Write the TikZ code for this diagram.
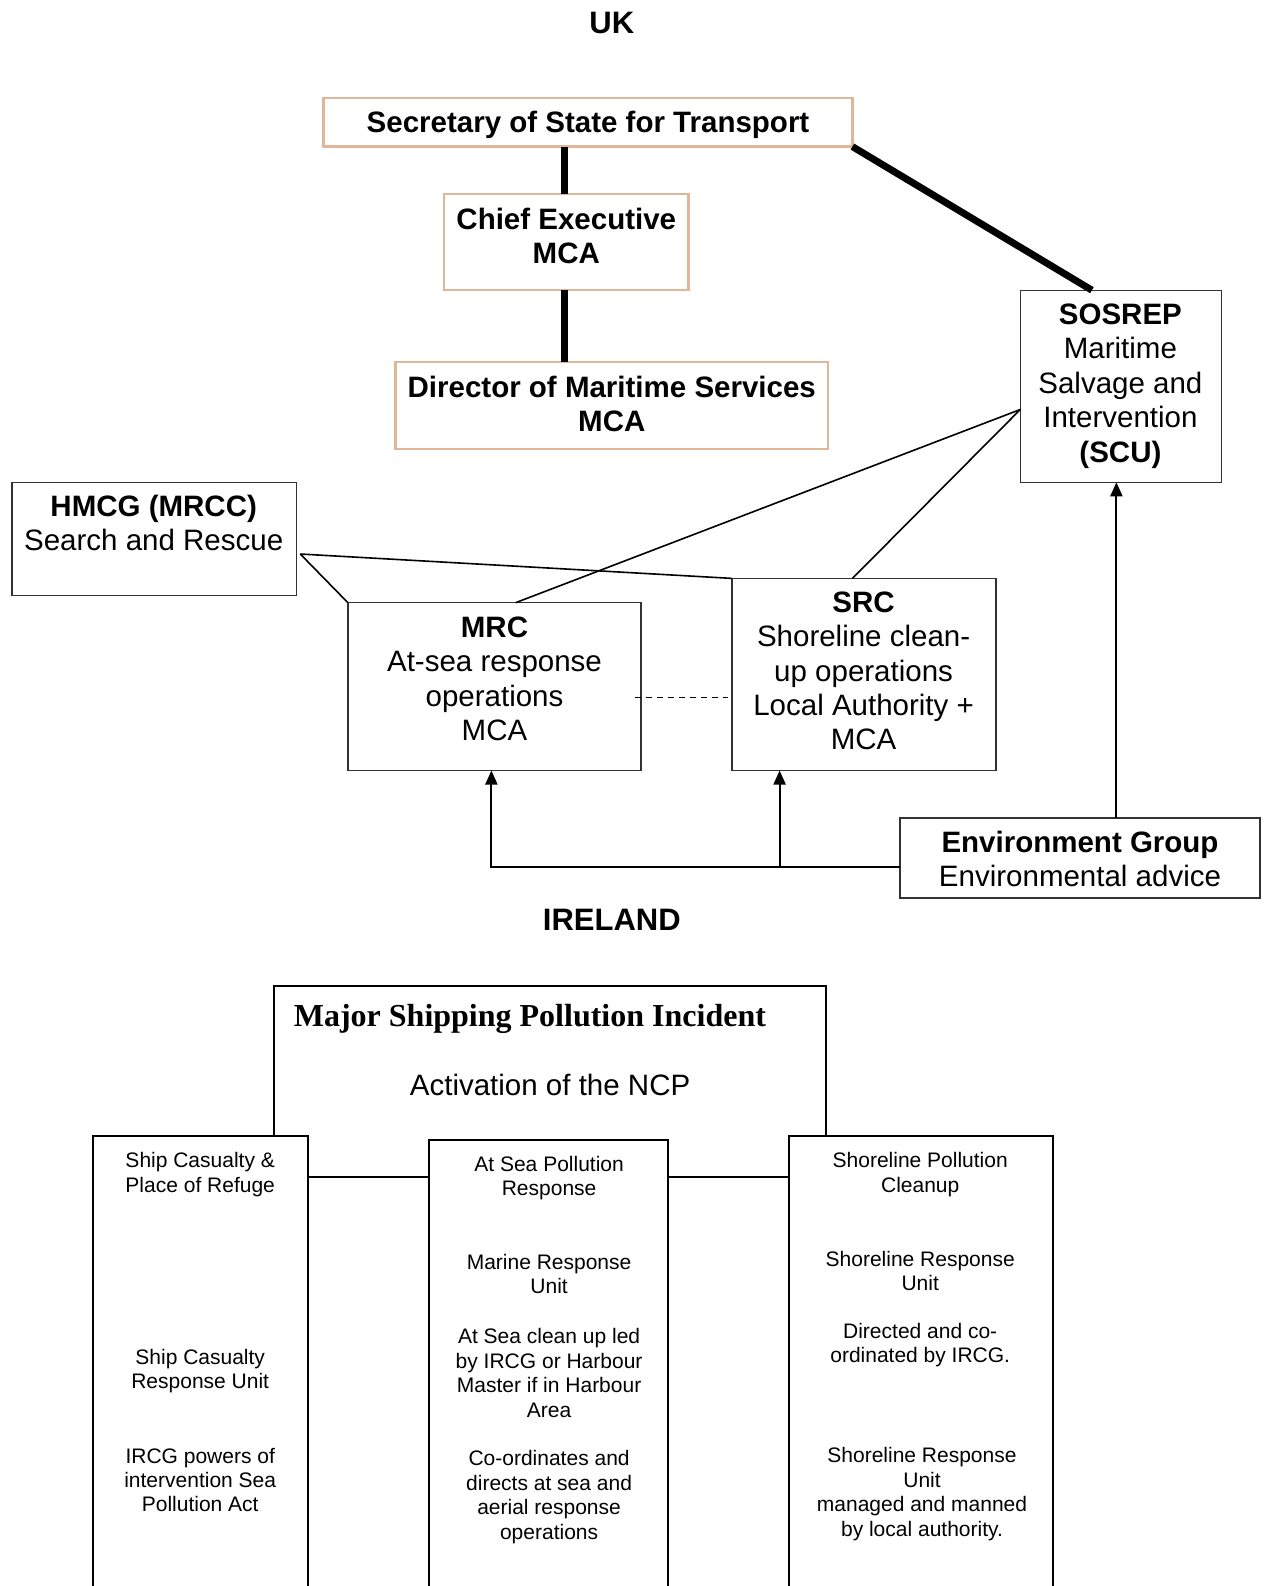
\documentclass[tikz,border=0pt]{standalone}
\usepackage{fontspec}
\setmainfont{Liberation Sans}
\newfontfamily\timesfont{Liberation Serif}
\usetikzlibrary{arrows.meta,calc}
\definecolor{tanedge}{RGB}{224,182,155}
\definecolor{boxedge}{RGB}{50,50,50}
\begin{document}
\begin{tikzpicture}[x=1pt,y=-1pt,
  box/.style={draw=boxedge, line width=1.3pt, rectangle, inner sep=0pt, outer sep=0pt, anchor=north west},
  tanbox/.style={draw=tanedge, line width=2.4pt, rectangle, inner sep=0pt, outer sep=0pt, anchor=north west},
  irlbox/.style={draw=black, line width=2pt, rectangle, inner sep=0pt, outer sep=0pt, anchor=north west},
  big/.style={font=\fontsize{29.5}{34.4}\selectfont, align=center, inner sep=0pt},
  bigb/.style={font=\fontsize{29.5}{34.4}\selectfont\bfseries, align=center, inner sep=0pt},
  small/.style={font=\fontsize{21}{24.4}\selectfont, align=center, inner sep=0pt},
  heavy/.style={line width=7pt},
  link/.style={draw=black, line width=1.6pt},
  arr/.style={line width=2pt, -{Triangle[length=14pt,width=12pt]}},
]
\useasboundingbox (0,0) rectangle (1263,1586);
\clip (0,0) rectangle (1263,1586);

% ---------- UK ----------
\node[font=\fontsize{31}{36}\selectfont\bfseries, inner sep=0pt] (uk) at (611.8,23.2) {UK};

\node[tanbox, minimum width=528.8pt, minimum height=48.5pt] (sec) at (323.6,98.1) {};
\node[bigb] (tsec) at (588,125) {Secretary of State for Transport};

\node[tanbox, minimum width=244.7pt, minimum height=96pt] (chief) at (443.9,194.2) {};
\node[bigb] (tchief) at (566.3,236) {Chief Executive\\MCA};

\node[tanbox, minimum width=432.8pt, minimum height=87pt] (dir) at (395.4,362) {};
\node[bigb] (tdir) at (611.8,404) {Director of Maritime Services\\MCA};

\node[box, minimum width=201.2pt, minimum height=192.1pt] (sosrep) at (1020.3,290.2) {};
\node[big] (tsosrep) at (1120.4,386) {\textbf{SOSREP}\\Maritime\\Salvage and\\Intervention\\\textbf{(SCU)}};

\node[box, minimum width=284.2pt, minimum height=113.3pt] (hmcg) at (12.1,482.3) {};
\node[big] (thmcg) at (153.7,523) {\textbf{HMCG (MRCC)}\\Search and Rescue};

\node[box, minimum width=293.2pt, minimum height=167.8pt] (mrc) at (347.9,602.7) {};
\node[big] (tmrc) at (494.5,679) {\textbf{MRC}\\At-sea response\\operations\\MCA};

\node[box, minimum width=263.9pt, minimum height=192.1pt] (src) at (732.1,578.4) {};
\node[big] (tsrc) at (863.6,671) {\textbf{SRC}\\Shoreline clean-\\up operations\\Local Authority +\\MCA};

\node[box, minimum width=360pt, minimum height=80pt] (env) at (900,818) {};
\node[big] (tenv) at (1080,859) {\textbf{Environment Group}\\Environmental advice};

% connectors UK
\coordinate (xv) at (564.2,0);
\draw[heavy] (sec.south -| xv) -- (chief.north -| xv);
\draw[heavy] (chief.south -| xv) -- (dir.north -| xv);
\draw[heavy] (sec.south east) -- ($(sosrep.north west)!0.356!(sosrep.north east)$);

\coordinate (h) at ([xshift=4pt]$(hmcg.north east)!0.633!(hmcg.south east)$);
\draw[link] (h) -- (mrc.north west);
\draw[link] (h) -- (src.north west);

\coordinate (s) at ($(sosrep.north west)!0.621!(sosrep.south west)$);
\draw[link] (s) -- ($(mrc.north west)!0.572!(mrc.north east)$);
\draw[link] (s) -- ($(src.north west)!0.456!(src.north east)$);

\coordinate (dy) at (0,697.7);
\draw[line width=1.3pt, dash pattern=on 6pt off 5pt] ([xshift=-6pt]mrc.east |- dy) -- ([xshift=-4pt]src.west |- dy);

\coordinate (ya) at (0,866.6);
\draw[arr] (env.west |- ya) -| ([xshift=-3.1pt]mrc.south);
\coordinate (jsrc) at (779.6,866.6);
\draw[arr] (jsrc) -- (jsrc |- src.south);
\coordinate (xs) at (1116.4,0);
\draw[arr] (env.north -| xs) -- (sosrep.south -| xs);

% ---------- IRELAND ----------
\node[font=\fontsize{31}{36}\selectfont\bfseries, inner sep=0pt] (ireland) at (611.8,920.2) {IRELAND};

\draw[line width=2pt] (274,1135.6) -- (274,986) -- (826.2,986) -- (826.2,1135.6);
\node[font=\timesfont\bfseries\fontsize{32}{36}\selectfont, inner sep=0pt] (tmajor) at (529.9,1019) {Major Shipping Pollution Incident};
\node[big] (tact) at (550.1,1085) {Activation of the NCP};

\node[irlbox, minimum width=215.4pt, minimum height=500pt] (ship) at (93,1135.6) {};
\node[irlbox, minimum width=239.7pt, minimum height=500pt] (atsea) at (428.7,1139.6) {};
\node[irlbox, minimum width=264pt, minimum height=500pt] (shore) at (788.7,1135.6) {};

\coordinate (yc) at (0,1177);
\draw[line width=2pt] (ship.east |- yc) -- (atsea.west |- yc);
\draw[line width=2pt] (atsea.east |- yc) -- (shore.west |- yc);

\node[small] (s1) at (200.2,1174.5) {Ship Casualty \&\\Place of Refuge};
\node[small] (s2) at (200.2,1371) {Ship Casualty\\Response Unit};
\node[small] (s3) at (200.2,1480) {IRCG powers of\\intervention Sea\\Pollution Act};

\node[small] (a1) at (549.1,1178) {At Sea Pollution\\Response};
\node[small] (a2) at (549.1,1274) {Marine Response\\Unit};
\node[small] (a3) at (549.1,1373) {At Sea clean up led\\by IRCG or Harbour\\Master if in Harbour\\Area};
\node[small] (a4) at (549.1,1497) {Co-ordinates and\\directs at sea and\\aerial response\\operations};

\node[small] (r1) at (920.2,1174.5) {Shoreline Pollution\\Cleanup};
\node[small] (r2) at (920.2,1271) {Shoreline Response\\Unit};
\node[small] (r3) at (920.2,1345) {Directed and co-\\ordinated by IRCG.};
\node[small] (r4) at (922,1494) {Shoreline Response\\Unit\\managed and manned\\by local authority.};
\end{tikzpicture}
\end{document}
